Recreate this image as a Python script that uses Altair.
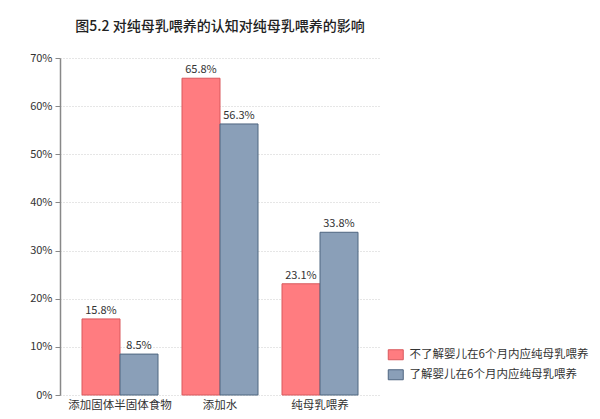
import altair as alt
import pandas as pd

categories = ["添加固体半固体食物", "添加水", "纯母乳喂养"]
series_names = ["不了解婴儿在6个月内应纯母乳喂养", "了解婴儿在6个月内应纯母乳喂养"]
not_aware = [15.8, 65.8, 23.1]
aware = [8.5, 56.3, 33.8]
y_ticks = [0, 10, 20, 30, 40, 50, 60, 70]
title_text = "图5.2 对纯母乳喂养的认知对纯母乳喂养的影响"

rows = []
for c, a, b in zip(categories, not_aware, aware):
    rows.append({"cat": c, "series": series_names[0], "v": a, "label": f"{a:.1f}%"})
    rows.append({"cat": c, "series": series_names[1], "v": b, "label": f"{b:.1f}%"})
df = pd.DataFrame(rows)

FONT = "Noto Sans CJK SC"
colors = ["#FF7C80", "#8A9FB8"]
strokes = ["#D9585C", "#4F6680"]

x = alt.X("cat:N", sort=categories, title=None,
          scale=alt.Scale(paddingInner=0.24, paddingOuter=0.22),
          axis=alt.Axis(labelAngle=0, domain=False, ticks=False, labelPadding=4,
                        labelFontSize=11.5, labelColor="#333", labelFont=FONT))
xo = alt.XOffset("series:N", sort=series_names, scale=alt.Scale(paddingInner=0, paddingOuter=0))

base = alt.Chart(df)

bars = base.mark_bar(strokeWidth=1).encode(
    x=x, xOffset=xo,
    y=alt.Y("v:Q", title=None,
            scale=alt.Scale(domain=[0, 70], nice=False),
            axis=alt.Axis(values=y_ticks, labelExpr="datum.value + '%'",
                          grid=True, gridDash=[1, 2], gridColor="#cccccc",
                          domainColor="#888888", domainWidth=1.5,
                          tickColor="#888888", tickSize=5, tickWidth=1,
                          labelFontSize=11, labelColor="#333", labelFont=FONT,
                          labelPadding=3)),
    color=alt.Color("series:N", sort=series_names, title=None,
                    scale=alt.Scale(domain=series_names, range=colors),
                    legend=alt.Legend(orient="none", legendX=330, legendY=291,
                                      symbolType="M-1.5,-1L1.5,-1L1.5,1L-1.5,1Z",
                                      symbolSize=100, symbolStrokeWidth=1,
                                      labelFontSize=11.5, labelColor="#333", labelFont=FONT,
                                      labelOffset=8, rowPadding=5, labelLimit=300)),
    stroke=alt.Stroke("series:N", sort=series_names, legend=None,
                      scale=alt.Scale(domain=series_names, range=strokes)),
)

labels = base.mark_text(dy=-8, fontSize=11, color="#333", font=FONT).encode(
    x=x, xOffset=xo, y="v:Q", text="label:N"
)

chart = (bars + labels).properties(
    width=320, height=337,
    background="white",
    title=alt.Title(title_text, fontSize=14, font=FONT, color="#222",
                    fontWeight=500, anchor="middle", offset=18),
    autosize=alt.AutoSizeParams(type="none"),
    padding={"left": 52, "top": 50, "right": 212, "bottom": 16},
).configure_view(stroke=None)

chart.save("out.html", embed_options={"renderer": "svg", "actions": False})
